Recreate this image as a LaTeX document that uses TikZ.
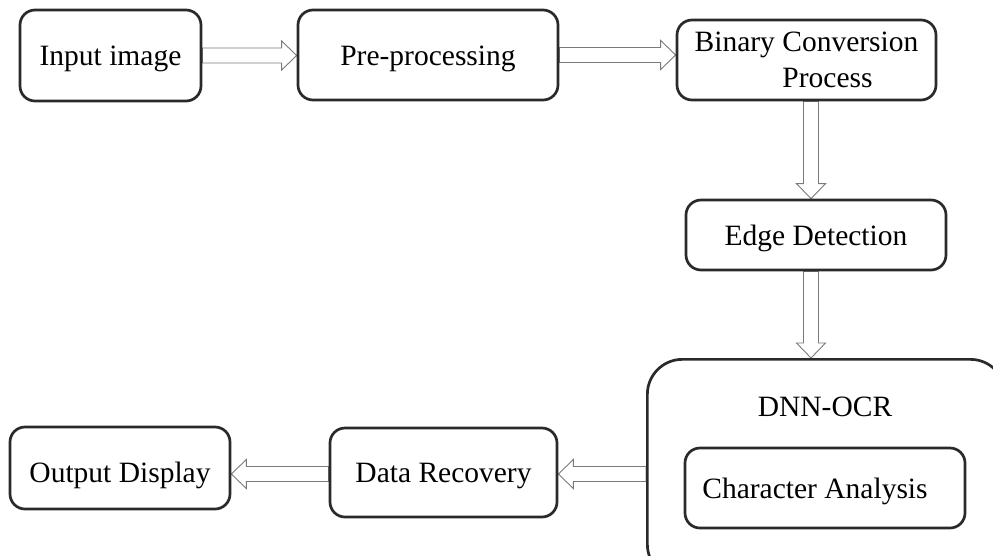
\documentclass[tikz,border=0pt]{standalone}
\usepackage{fontspec}
\setmainfont{Liberation Serif}
\usetikzlibrary{calc,backgrounds}

\definecolor{boxline}{HTML}{2A2A2A}
\definecolor{arrowline}{HTML}{7A7A7A}

\tikzset{
  stage/.style={draw=boxline, line width=2.7pt, rounded corners=15pt, fill=white,
    inner sep=0pt, font=\fontsize{29.5}{36}\selectfont},
  oneline/.style={stage, text height=20pt, text depth=0pt},
  hollowarrow/.style={draw=arrowline, line width=0.9pt, fill=white, line join=miter},
  label/.style={inner sep=0pt, font=\fontsize{29.5}{36}\selectfont, text height=20pt, text depth=0pt},
}

% Hollow block arrow from #1 to #2 (tip at #2)
\newcommand\flowarrow[2]{%
  \path (#1) coordinate (fa-s);
  \path (#2) coordinate (fa-t);
  \path ($(fa-t)!15pt!(fa-s)$) coordinate (fa-h);
  \draw[hollowarrow]
    ($(fa-s)!7.5pt!90:(fa-t)$) -- ($(fa-h)!7.5pt!90:(fa-t)$) --
    ($(fa-h)!14.5pt!90:(fa-t)$) -- (fa-t) --
    ($(fa-h)!14.5pt!-90:(fa-t)$) -- ($(fa-h)!7.5pt!-90:(fa-t)$) --
    ($(fa-s)!7.5pt!-90:(fa-t)$) -- cycle;
}

\begin{document}
\begin{tikzpicture}[x=1pt, y=-1pt]
  \useasboundingbox (0,0) rectangle (993,555);
  \clip (0,0) rectangle (993,555);

  % processing stages
  \node[oneline, minimum width=181pt, minimum height=91pt] (in)   at (110.5,55.5) {Input image};
  \node[oneline, minimum width=260pt, minimum height=90pt] (pre)  at (428,55)     {Pre-processing};
  \node[stage, align=center, minimum width=259pt, minimum height=80pt] (bin) at (806.5,60)
       {Binary Conversion\\\hspace*{42pt}Process};
  \node[oneline, minimum width=260pt, minimum height=70pt] (edge) at (816,235)    {Edge Detection};

  % recognition block, running off the page edge
  \node[stage, rounded corners=35pt, minimum width=358pt, minimum height=220pt, anchor=north west]
       (dnn) at (646,358) {};
  \node[label] (dnnlabel) at (825,406) {DNN-OCR};
  \node[oneline, minimum width=280pt, minimum height=80pt] (ca) at (825,488)
       {Character Analysis\hspace*{20pt}};

  \node[oneline, minimum width=227pt, minimum height=89pt] (dr)  at (443.5,472.5) {Data Recovery};
  \node[oneline, minimum width=220pt, minimum height=82pt] (out) at (120,468)
       {\raisebox{-4pt}{Output Display}};

  % helper guides for the arrow axes
  \coordinate (col) at (811,0);
  \coordinate (row) at (0,474);

  \begin{pgfonlayer}{background}
    \flowarrow{in.east}{in.east -| pre.west}
    \flowarrow{pre.east}{pre.east -| bin.west}
    \flowarrow{bin.south -| col}{edge.north -| col}
    \flowarrow{edge.south -| col}{dnn.north -| col}
    \flowarrow{dnn.west |- row}{dr.east |- row}
    \flowarrow{dr.west |- row}{out.east |- row}
  \end{pgfonlayer}
\end{tikzpicture}
\end{document}
